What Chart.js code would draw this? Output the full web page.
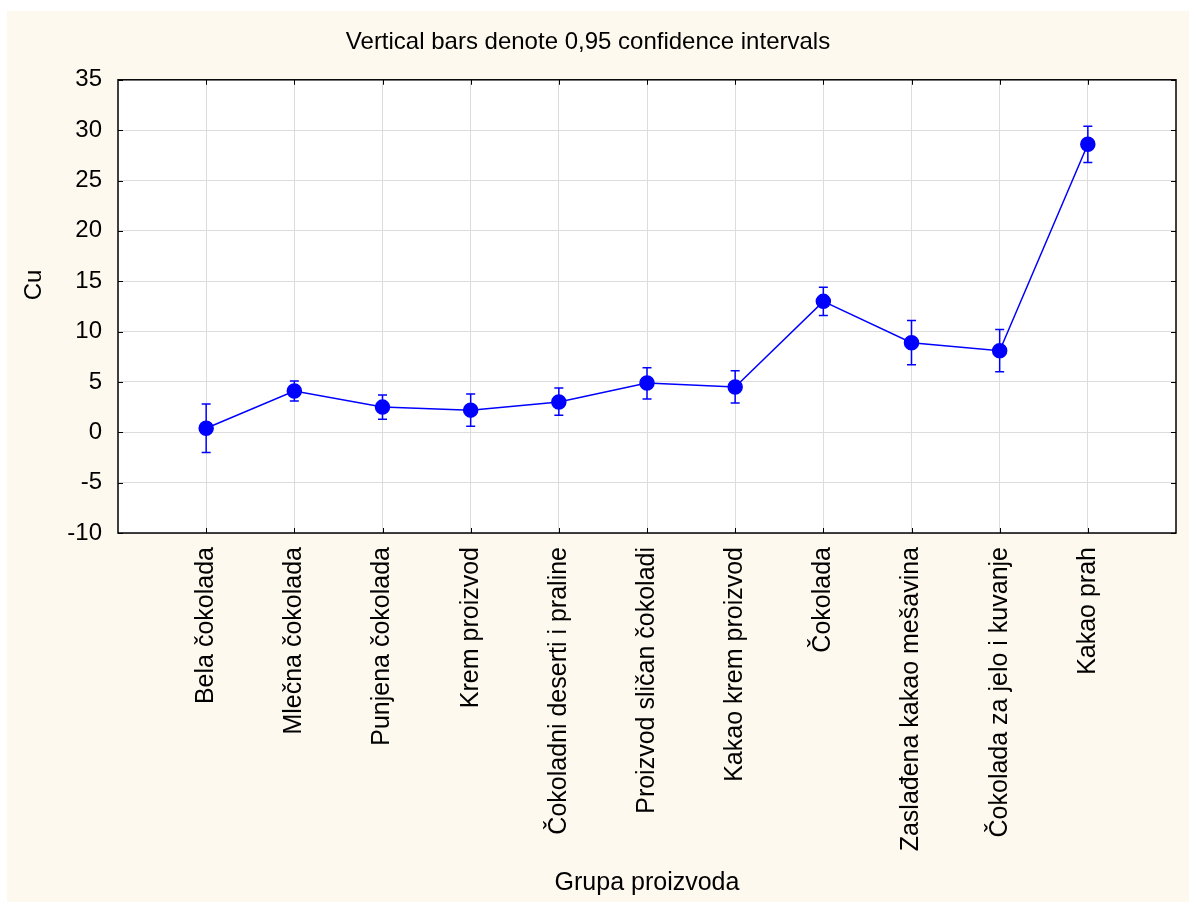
<!DOCTYPE html>
<html>
<head>
<meta charset="utf-8">
<script src="https://cdn.jsdelivr.net/npm/chart.js@4.4.1/dist/chart.umd.min.js"></script>
<style>
  html, body { margin: 0; padding: 0; background: #ffffff; }
  #wrap { width: 1196px; height: 909px; position: relative; }
</style>
</head>
<body>
<div id="wrap"><canvas id="chart" width="1196" height="909"></canvas></div>
<script>
// Product groups (x axis)
const categories = [
  'Bela čokolada',
  'Mlečna čokolada',
  'Punjena čokolada',
  'Krem proizvod',
  'Čokoladni deserti i praline',
  'Proizvod sličan čokoladi',
  'Kakao krem proizvod',
  'Čokolada',
  'Zaslađena kakao mešavina',
  'Čokolada za jelo i kuvanje',
  'Kakao prah'
];

// Mean Cu per group and 0.95 confidence limits
const means = [0.4, 4.1, 2.5, 2.2, 3.0, 4.9, 4.5, 13.0, 8.9, 8.1, 28.6];
const ciLow = [-2.0, 3.1, 1.3, 0.6, 1.7, 3.3, 2.9, 11.6, 6.7, 6.0, 26.8];
const ciHigh = [2.8, 5.1, 3.7, 3.8, 4.4, 6.4, 6.1, 14.4, 11.1, 10.2, 30.4];

const yTicks = [-10, -5, 0, 5, 10, 15, 20, 25, 30, 35];

const FONT = "'Liberation Sans', Arial, sans-serif";
const BLUE = '#0000ff';
const CREAM = '#fef9ee';

// cream page background, error bars, frame with inward ticks, y title
const decorPlugin = {
  id: 'decor',
  beforeDraw(chart) {
    const c = chart.ctx;
    c.save();
    c.fillStyle = CREAM;
    c.fillRect(7, 11, chart.width - 14, chart.height - 18);
    const a = chart.chartArea;
    c.fillStyle = '#ffffff';
    c.fillRect(a.left, a.top, a.right - a.left, a.bottom - a.top);
    c.restore();
  },
  beforeDatasetsDraw(chart) {
    const c = chart.ctx;
    const xs = chart.scales.x, ys = chart.scales.y;
    c.save();
    c.strokeStyle = BLUE;
    c.lineWidth = 1.5;
    means.forEach((m, i) => {
      const x = xs.getPixelForValue(i + 1);
      const y1 = ys.getPixelForValue(ciLow[i]);
      const y2 = ys.getPixelForValue(ciHigh[i]);
      c.beginPath();
      c.moveTo(x, y1); c.lineTo(x, y2);
      c.moveTo(x - 4.5, y1); c.lineTo(x + 4.5, y1);
      c.moveTo(x - 4.5, y2); c.lineTo(x + 4.5, y2);
      c.stroke();
    });
    c.restore();
  },
  afterDraw(chart) {
    const c = chart.ctx;
    const a = chart.chartArea;
    const xs = chart.scales.x, ys = chart.scales.y;
    c.save();
    c.strokeStyle = '#000000';
    c.lineWidth = 1;
    c.beginPath();
    ys.ticks.forEach(t => {
      const y = Math.round(ys.getPixelForValue(t.value)) + 0.5;
      c.moveTo(a.right, y); c.lineTo(a.right - 5, y);
      c.moveTo(a.left, y); c.lineTo(a.left + 5, y);
    });
    xs.ticks.forEach(t => {
      const x = Math.round(xs.getPixelForValue(t.value)) + 0.5;
      c.moveTo(x, a.top); c.lineTo(x, a.top + 5);
      c.moveTo(x, a.bottom); c.lineTo(x, a.bottom - 5);
    });
    c.stroke();
    c.lineWidth = 1.5;
    c.strokeRect(a.left, a.top, a.right - a.left, a.bottom - a.top);

    // y axis title
    c.translate(34, 285);
    c.rotate(-Math.PI / 2);
    c.fillStyle = '#000000';
    c.font = '24px ' + FONT;
    c.textAlign = 'center';
    c.textBaseline = 'middle';
    c.fillText('Cu', 0, 0);
    c.restore();
  }
};

const ctx = document.getElementById('chart').getContext('2d');
new Chart(ctx, {
  type: 'line',
  data: {
    datasets: [{
      label: 'Cu',
      data: means.map((v, i) => ({ x: i + 1, y: v })),
      borderColor: BLUE,
      backgroundColor: BLUE,
      borderWidth: 1.5,
      pointRadius: 7,
      pointHoverRadius: 7,
      pointBackgroundColor: BLUE,
      pointBorderColor: BLUE,
      tension: 0,
      fill: false
    }]
  },
  options: {
    responsive: false,
    animation: false,
    layout: { padding: { left: 0, right: 20, top: 0, bottom: 0 } },
    plugins: {
      legend: { display: false },
      tooltip: { enabled: false },
      title: {
        display: true,
        text: 'Vertical bars denote 0,95 confidence intervals',
        color: '#000000',
        font: { family: FONT, size: 24, weight: 'normal' },
        padding: { top: 28, bottom: 23 }
      }
    },
    scales: {
      x: {
        type: 'linear',
        min: 0,
        max: 12,
        afterBuildTicks(scale) {
          scale.ticks = categories.map((_, i) => ({ value: i + 1 }));
        },
        afterFit(scale) { scale.height = 376; },
        ticks: {
          autoSkip: false,
          minRotation: 90,
          maxRotation: 90,
          padding: 14,
          color: '#000000',
          font: { family: FONT, size: 25 },
          callback: (v) => categories[v - 1] || ''
        },
        grid: { color: '#dcdcdc', lineWidth: 1, drawTicks: false },
        border: { display: false },
        title: {
          display: true,
          text: 'Grupa proizvoda',
          color: '#000000',
          font: { family: FONT, size: 25 },
          padding: { top: 4, bottom: 11 }
        }
      },
      y: {
        min: -10,
        max: 35,
        afterBuildTicks(scale) {
          scale.ticks = yTicks.map(v => ({ value: v }));
        },
        afterFit(scale) { scale.width = 118; },
        ticks: {
          padding: 16,
          color: '#000000',
          font: { family: FONT, size: 24 }
        },
        grid: { color: '#dcdcdc', lineWidth: 1, drawTicks: false },
        border: { display: false }
      }
    }
  },
  plugins: [decorPlugin]
});
</script>
</body>
</html>
